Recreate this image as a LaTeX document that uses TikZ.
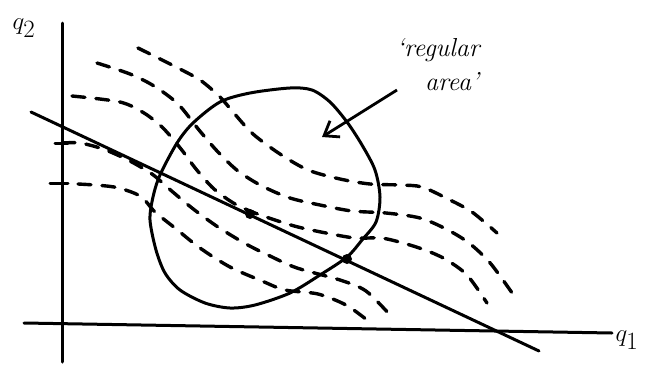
\documentclass[tikz,border=0pt]{standalone}
\usetikzlibrary{arrows.meta}
\begin{document}
\begin{tikzpicture}[
  x=1pt, y=-1pt,
  axisline/.style={line width=3pt, line cap=round},
  contour/.style={line width=3.4pt, dash pattern=on 13pt off 11pt,
    line cap=round},
  border/.style={line width=3pt, line join=round},
  dot/.style={circle, fill, inner sep=0pt, minimum size=10pt},
  lbl/.style={font=\fontsize{36}{40}\selectfont},
  note/.style={font=\fontsize{26}{30}\selectfont\itshape},
  arr/.style={-{Straight Barb[length=13pt, width=19pt]}, line width=2.8pt}
]
  \useasboundingbox (0,0) rectangle (646,365);

  \draw[axisline] (62,23) -- (62,362);
  \draw[axisline] (24,323) -- (612,333);
  \draw[axisline] (55,143) -- (68,143);
  \draw[axisline] (50,183) -- (68,183);
  \node[lbl] (qtwo) at (24,28) {$q_2$};
  \node[lbl, anchor=west] (qone) at (612,340) {$q_1$};

  \draw[axisline] (31,112) -- (539,351);

  \draw[contour] plot[smooth] coordinates {(138,48) (174,66) (200,80)
    (220,97) (233,112) (253,134) (280,154) (308,170) (340,179) (370,184)
    (400,185) (422,187) (448,199) (472,212) (497,233)};
  \draw[contour] plot[smooth] coordinates {(97,63) (130,74) (154,86)
    (178,104) (199,130) (218,152) (238,171) (262,186) (290,198) (320,205)
    (352,211) (386,213) (420,218) (446,229) (469,243) (491,264) (517,300)};
  \draw[contour] plot[smooth] coordinates {(72,96) (120,102) (144,113)
    (163,128) (181,149) (196,169) (214,189) (235,204) (255,213) (275,220)
    (298,227) (326,233) (355,238) (381,238) (403,243) (425,250) (445,259)
    (467,275) (487,303)};
  \draw[contour] plot[smooth] coordinates {(62,143) (80,143) (103,149)
    (128,160) (152,174) (167,187) (192,208) (218,227) (246,244) (270,256)
    (297,268) (340,280) (366,291) (390,315)};
  \draw[contour] plot[smooth] coordinates {(78,184) (114,187) (140,196)
    (155,212) (175,228) (200,248) (230,267) (262,281) (285,290) (318,294)
    (346,305) (367,320)};

  \draw[border] plot[smooth cycle] coordinates {(160,175) (177,143)
    (193,123) (220,102) (250,93) (290,88) (312,90) (330,102) (347,122)
    (362,145) (375,170) (380,197) (376,222) (362,240) (347,257) (320,275)
    (290,293) (255,305) (230,308) (205,303) (180,290) (165,273) (156,250)
    (150,220) (153,197)};

  \node[dot] (pa) at (250,214) {};
  \node[dot] (pb) at (347,259) {};

  \node[note] (regtxt) at (438,50) {`regular};
  \node[note] (areatxt) at (452,82) {area'};
  \coordinate (regtail) at (397,90);
  \coordinate (regtip) at (322,137);
  \draw[arr] (regtail) -- (regtip);
\end{tikzpicture}
\end{document}
